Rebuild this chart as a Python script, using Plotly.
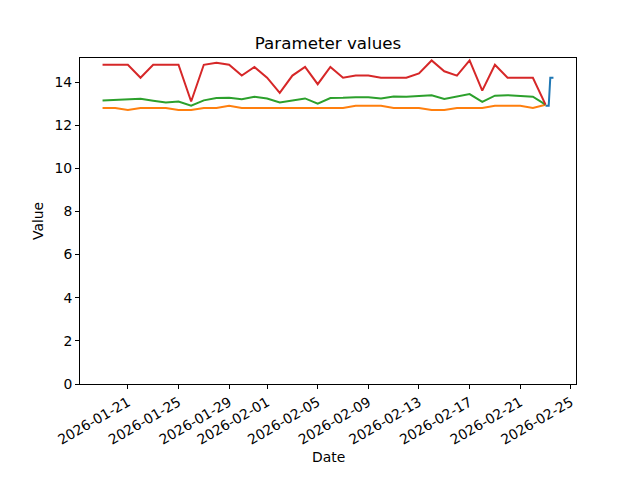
import pandas as pd
import plotly.graph_objects as go

# Daily dates 2026-01-19 .. 2026-02-23
dates = pd.date_range("2026-01-19", "2026-02-23", freq="D")

orange_vals = [12.8, 12.8, 12.7, 12.8, 12.8, 12.8, 12.7, 12.7, 12.8, 12.8,
               12.9, 12.8, 12.8, 12.8, 12.8, 12.8, 12.8, 12.8, 12.8, 12.8,
               12.9, 12.9, 12.9, 12.8, 12.8, 12.8, 12.7, 12.7, 12.8, 12.8,
               12.8, 12.9, 12.9, 12.9, 12.8, 12.95]
green_vals = [13.15, 13.18, 13.2, 13.22, 13.13, 13.05, 13.1, 12.9, 13.15, 13.26,
              13.27, 13.2, 13.32, 13.24, 13.05, 13.13, 13.24, 13.0, 13.26, 13.27,
              13.3, 13.29, 13.24, 13.33, 13.32, 13.35, 13.39, 13.22, 13.33, 13.44,
              13.08, 13.37, 13.39, 13.36, 13.32, 12.95]
red_vals = [14.8, 14.8, 14.8, 14.2, 14.8, 14.8, 14.8, 13.1, 14.8, 14.9,
            14.8, 14.3, 14.7, 14.2, 13.5, 14.3, 14.7, 13.9, 14.7, 14.2,
            14.3, 14.3, 14.2, 14.2, 14.2, 14.4, 15.0, 14.5, 14.3, 15.0,
            13.6, 14.8, 14.2, 14.2, 14.2, 12.95]

blue_times = pd.to_datetime(["2026-02-23 00:00", "2026-02-23 06:00",
                             "2026-02-23 09:00", "2026-02-23 15:00"])
blue_vals = [12.9, 12.9, 14.2, 14.2]

x_tickvals = pd.to_datetime(["2026-01-21", "2026-01-25", "2026-01-29", "2026-02-01",
                             "2026-02-05", "2026-02-09", "2026-02-13", "2026-02-17",
                             "2026-02-21", "2026-02-25"])
y_tickvals = [0, 2, 4, 6, 8, 10, 12, 14]

FONT = "DejaVu Sans"
fig = go.Figure()
fig.add_trace(go.Scatter(x=blue_times, y=blue_vals, mode="lines",
                         line=dict(color="#1f77b4", width=2), showlegend=False))
fig.add_trace(go.Scatter(x=dates, y=orange_vals, mode="lines",
                         line=dict(color="#ff7f0e", width=2), showlegend=False))
fig.add_trace(go.Scatter(x=dates, y=green_vals, mode="lines",
                         line=dict(color="#2ca02c", width=2), showlegend=False))
fig.add_trace(go.Scatter(x=dates, y=red_vals, mode="lines",
                         line=dict(color="#d62728", width=2), showlegend=False))

x0 = dates[0]
x1 = blue_times[-1]
span = x1 - x0
xr = [x0 - span * 0.05, x1 + span * 0.05]

axis_common = dict(showgrid=False, zeroline=False, showline=True, linecolor="black",
                   linewidth=1, mirror=True, ticks="outside", ticklen=4,
                   tickcolor="black", tickwidth=1, automargin=False,
                   tickfont=dict(family=FONT, size=13.9, color="black"))

# page has an 8px body margin; plot area on page: x 80..576, y 58..384
W, H = 632, 472
fig.update_layout(
    width=W, height=H,
    margin=dict(l=72, r=64, t=50, b=96, autoexpand=False),
    paper_bgcolor="white", plot_bgcolor="white",
    font=dict(family=FONT, color="black"),
    title=dict(text="Parameter values", x=0.5, xref="paper", xanchor="center",
               y=1 - 35 / H, yref="container", yanchor="middle",
               font=dict(family=FONT, size=16.7, color="black")),
    xaxis=dict(range=xr, tickvals=x_tickvals, tickformat="%Y-%m-%d",
               tickangle=-30, **axis_common),
    yaxis=dict(range=[0, 15.115], tickvals=y_tickvals, **axis_common),
    annotations=[
        dict(text="Date", x=0.5, xref="paper", y=(384 - 457) / 326, yref="paper",
             yanchor="middle", xanchor="center", showarrow=False,
             font=dict(family=FONT, size=13.9, color="black")),
        dict(text="Value", x=(38 - 80) / 496, xref="paper", y=0.5, yref="paper",
             xanchor="center", yanchor="middle", textangle=-90, showarrow=False,
             font=dict(family=FONT, size=13.9, color="black")),
    ],
)

fig.write_html("out.html")
